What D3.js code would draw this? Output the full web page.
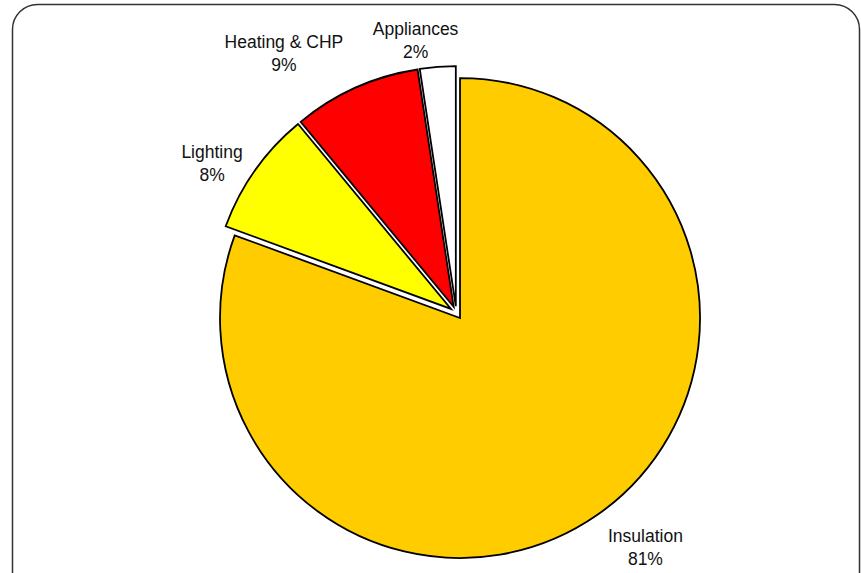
<!DOCTYPE html>
<html>
<head>
<meta charset="utf-8">
<script src="https://cdn.jsdelivr.net/npm/d3@7/dist/d3.min.js"></script>
<style>
  html, body { margin: 0; padding: 0; background: #fff; }
  svg { display: block; }
  text { font-family: "Liberation Sans", Arial, sans-serif; }
</style>
</head>
<body>
<svg id="chart" width="861" height="573"></svg>
<script>
// ---- data ----
const categories = ["Insulation", "Lighting", "Heating & CHP", "Appliances"];
const values = [80.6, 8.4, 8.6, 2.4];
const percentLabels = ["81%", "8%", "9%", "2%"];
const colors = ["#FFCC00", "#FFFF00", "#FF0000", "#FFFFFF"];

// ---- layout ----
const W = 861, H = 573;
const cx = 456.3, cy = 312.7, R = 240, explode = 6.5;
// label placement (polar, relative to pie centre): angle in degrees, radius in px
const labelAngle = [141.8, 300.4, 325.7, 351.3];
const labelRadius = [305.8, 283.2, 306, 269.3];

const svg = d3.select("#chart");

// frame (rounded rectangle, partly clipped by the window)
svg.append("rect")
  .attr("x", 12.5).attr("y", 4.5)
  .attr("width", 847).attr("height", 620)
  .attr("rx", 25).attr("ry", 25)
  .attr("fill", "none")
  .attr("stroke", "#333")
  .attr("stroke-width", 1.5);

const data = categories.map((c, i) => ({ name: c, value: values[i], pct: percentLabels[i], color: colors[i] }));

const pie = d3.pie().sort(null).value(d => d.value);
const arc = d3.arc().innerRadius(0).outerRadius(R);
const arcs = pie(data);

const g = svg.append("g").attr("transform", `translate(${cx},${cy})`);

g.selectAll("path.slice")
  .data(arcs)
  .join("path")
  .attr("class", "slice")
  .attr("d", arc)
  .attr("transform", d => {
    const a = (d.startAngle + d.endAngle) / 2;
    return `translate(${explode * Math.sin(a)},${-explode * Math.cos(a)})`;
  })
  .attr("fill", d => d.data.color)
  .attr("stroke", "#000")
  .attr("stroke-width", 1.8)
  .attr("stroke-linejoin", "miter");

const labels = g.selectAll("text.lbl")
  .data(arcs)
  .join("text")
  .attr("class", "lbl")
  .attr("text-anchor", "middle")
  .attr("font-size", "17.5px")
  .attr("fill", "#111")
  .attr("transform", (d, i) => {
    const a = labelAngle[i] * Math.PI / 180;
    return `translate(${labelRadius[i] * Math.sin(a)},${-labelRadius[i] * Math.cos(a)})`;
  });

labels.append("tspan").attr("x", 0).attr("y", -11.5 + 0).text(d => d.data.name);
labels.append("tspan").attr("x", 0).attr("y", 11.5).text(d => d.data.pct);
</script>
</body>
</html>
